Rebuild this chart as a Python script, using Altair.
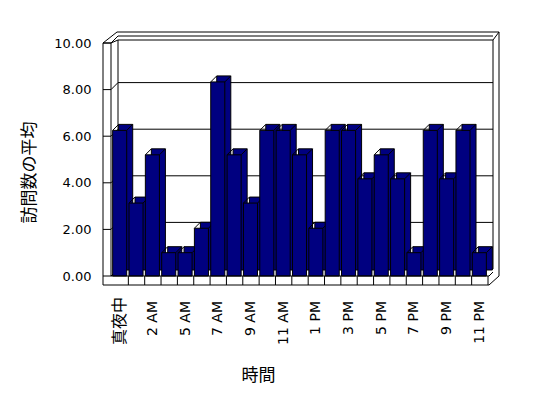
import altair as alt
import pandas as pd

# ---- data ----
hour_labels = ["真夜中", "1 AM", "2 AM", "4 AM", "5 AM", "6 AM", "7 AM", "8 AM",
               "9 AM", "10 AM", "11 AM", "正午", "1 PM", "2 PM", "3 PM", "4 PM",
               "5 PM", "6 PM", "7 PM", "8 PM", "9 PM", "10 PM", "11 PM"]
avg_visits = [6.25, 3.13, 5.2, 1.0, 1.0, 2.05, 8.33, 5.2, 3.13, 6.25, 6.25, 5.2,
              2.05, 6.25, 6.25, 4.17, 5.2, 4.17, 1.0, 6.25, 4.17, 6.25, 1.0]
y_ticks = [0, 2, 4, 6, 8, 10]

N = len(hour_labels)
W, H = 376, 233          # front plane of the 3D box
D = 6                    # bar depth in px
NAVY = "#000080"

df = pd.DataFrame({"idx": list(range(N)), "label": hour_labels, "value": avg_visits})
df_ticks = pd.DataFrame({"v": y_ticks})
df_bound = pd.DataFrame({"b": list(range(1, N + 1))})
dummy = pd.DataFrame({"a": [0]})

xscale = alt.Scale(domain=[0, N], nice=False, zero=False)
yscale = alt.Scale(domain=[0, 10], nice=False)

ax_x = alt.Axis(labels=False, domain=False, ticks=False, grid=False,
                title="時間", titleFont="Noto Sans CJK JP", titleFontSize=17,
                titleFontWeight="normal", titleColor="black",
                titleX=146, titleY=99, titleBaseline="middle", titleAlign="center")
ax_y = alt.Axis(values=y_ticks, format=".2f", labelFont="DejaVu Sans",
                labelFontSize=13, labelColor="black", labelPadding=21,
                labelOverlap=False,
                domain=False, ticks=False, tickSize=0, grid=False,
                title="訪問数の平均", titleFont="Noto Sans CJK JP", titleFontSize=17,
                titleFontWeight="normal", titleColor="black",
                titleX=-83, titleY=129, titleBaseline="middle", titleAngle=-90)

base = alt.Chart(df).transform_calculate(
    x0="datum.idx + 0.04", x1="datum.idx + 0.9", xc="datum.idx + 0.5"
)


def X(f):
    return alt.X(f, scale=xscale, axis=ax_x, title="時間")


def Y(f):
    return alt.Y(f, scale=yscale, axis=ax_y, title="訪問数の平均")


def seg(x1, y1, x2, y2):
    return alt.Chart(dummy).mark_rule(color="black", strokeWidth=1).encode(
        x=alt.value(x1), y=alt.value(y1), x2=alt.value(x2), y2=alt.value(y2)
    )


# back wall gridlines and left-wall ticks/diagonals
grid_back = alt.Chart(df_ticks).mark_rule(color="black", yOffset=-7, y2Offset=-7).encode(
    y=Y("v:Q"), x=alt.value(6), x2=alt.value(381))
grid_diag = alt.Chart(df_ticks).mark_rule(color="black", y2Offset=-7).encode(
    y=Y("v:Q"), y2="v:Q", x=alt.value(-1), x2=alt.value(6))
grid_wall = alt.Chart(df_ticks).mark_rule(color="black").encode(
    y=Y("v:Q"), x=alt.value(-9), x2=alt.value(-1))

frame = [
    seg(-9, 0, -9, 242),      # front-left edge
    seg(-1, 0, -1, 233),      # wall inner front edge
    seg(6, -3, 6, 226),       # back wall left edge
    seg(-9, 0, -1, 0),        # top of left wall
    seg(-9, 0, 5, -11),       # outer diagonal
    seg(-1, 0, 6, -3),        # inner diagonal
    seg(5, -11, 387, -11),    # top outer
    seg(6, -3, 381, -3),      # top inner
    seg(387, -11, 387, 233),  # right outer
    seg(381, -3, 381, 226),   # right inner
    seg(381, -3, 387, -11),   # top-right diagonal
]

back_bars = base.mark_rect(color=NAVY, stroke="black", strokeWidth=1,
                           xOffset=D, x2Offset=D, yOffset=-D, y2Offset=-D).encode(
    x=X("x0:Q"), x2="x1:Q", y=Y("value:Q"), y2=alt.datum(0))

diag_l = base.mark_rule(color="black", x2Offset=D, y2Offset=-D).encode(
    x=X("x0:Q"), x2="x0:Q", y=Y("value:Q"), y2="value:Q")
diag_r = base.mark_rule(color="black", x2Offset=D, y2Offset=-D).encode(
    x=X("x1:Q"), x2="x1:Q", y=Y("value:Q"), y2="value:Q")

front_bars = base.mark_rect(color=NAVY, stroke="black", strokeWidth=1).encode(
    x=X("x0:Q"), x2="x1:Q", y=Y("value:Q"), y2=alt.datum(0))

floor = [
    seg(-1, 233, 377, 233),
    seg(-9, 242, 377, 242),
    seg(377, 242, 387, 233),
    seg(377, 233, 381, 229),
]
floor_ticks = alt.Chart(df_bound).mark_rule(color="black").encode(
    x=X("b:Q"), y=alt.value(233), y2=alt.value(242))

# category labels (every second hour), rotated to read bottom-to-top
lbl_cjk = base.transform_filter("datum.idx == 0").mark_text(
    angle=270, align="right", baseline="middle", font="Noto Sans CJK JP",
    fontSize=16, color="black").encode(
    x=X("xc:Q"), y=alt.value(254), text="label:N")
lbl_lat = base.transform_filter("datum.idx > 0 && datum.idx % 2 == 0").mark_text(
    angle=270, align="right", baseline="middle", font="DejaVu Sans",
    fontSize=14, color="black").encode(
    x=X("xc:Q"), y=alt.value(258), text="label:N")

chart = alt.layer(
    grid_back, grid_diag, grid_wall, *frame,
    back_bars, diag_l, diag_r, front_bars, *floor, floor_ticks,
    lbl_cjk, lbl_lat
).properties(
    width=W, height=H,
    autosize=alt.AutoSizeParams(type="none"),
    padding={"left": 104, "top": 35, "right": 50, "bottom": 110},
    background="white",
).configure_view(stroke=None)

chart.save("out.html", embed_options={"renderer": "svg", "actions": False})
